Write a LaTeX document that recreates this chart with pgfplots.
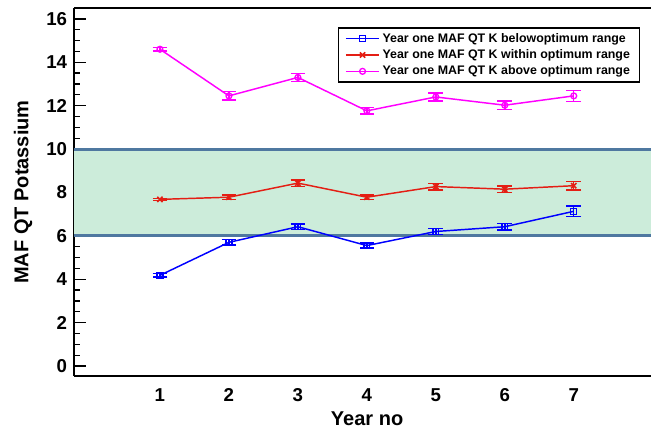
\documentclass[border=0pt]{standalone}
\usepackage{fontspec}
\setmainfont{Liberation Sans}
\usepackage{pgfplots}
\pgfplotsset{compat=1.18}
\definecolor{bandfill}{RGB}{204,236,218}
\definecolor{bandline}{RGB}{79,120,160}
\definecolor{cblue}{RGB}{0,0,255}
\definecolor{cred}{RGB}{228,30,20}
\definecolor{cmag}{RGB}{255,0,255}
\begin{document}
\begin{tikzpicture}
\begin{axis}[
  scale only axis,
  width=432.75pt, height=276pt,
  xmin=-0.246, xmax=8.12,
  ymin=-0.46, ymax=16.5,
  axis x line=box, axis y line=left,
  axis line style={-, line width=1.4pt},
  xtick={1,2,3,4,5,6,7},
  ytick={0,2,4,6,8,10,12,14,16},
  minor y tick num=3,
  tick align=inside,
  xtick style={draw=none},
  ytick pos=left,
  major tick length=9pt, minor tick length=4.5pt,
  ytick style={line width=1pt, black},
  minor y tick style={line width=1pt, black},
  /pgf/number format/assume math mode=true,
  ticklabel style={font=\fontsize{14}{16}\selectfont\bfseries},
  yticklabel style={inner sep=0pt, xshift=-5pt},
  xticklabel style={inner sep=0pt, yshift=-9pt},
  xlabel={Year no},
  ylabel={MAF QT Potassium},
  label style={font=\fontsize{15}{17}\selectfont\bfseries},
  xlabel style={at={(axis description cs:0.508,0)}, anchor=north, inner sep=0pt, yshift=-26.5pt},
  ylabel style={at={([xshift=-31pt]axis description cs:0,0.5)}, anchor=south, inner sep=0pt},
  legend cell align=left,
  legend style={at={(rel axis cs:0.981,0.948)}, anchor=north east, draw=black, line width=1.1pt,
    font=\fontsize{9.3}{11}\selectfont\bfseries, inner xsep=5pt, inner ysep=2pt,
    row sep=0pt,
    /tikz/every even column/.append style={column sep=2pt}},
  legend image code/.code={\draw[mark repeat=2, mark phase=2, #1, line width=1.1pt] plot coordinates {(0pt,0pt) (12.5pt,0pt) (25pt,0pt)};},
  error bars/error mark options={rotate=90, mark size=5.5pt, line width=1.1pt},
  clip=false,
]
\fill[bandfill] (axis cs:-0.246,6) rectangle (axis cs:8.12,10);
\draw[bandline, line width=2.2pt] (axis cs:-0.246,6) -- (axis cs:8.12,6);
\draw[bandline, line width=2.2pt] (axis cs:-0.246,10) -- (axis cs:8.12,10);

\addplot[cblue, line width=1.1pt, mark=square, mark size=2.2pt, mark options={line width=1pt},
  error bars/.cd, y dir=both, y explicit, error bar style={line width=1.1pt}]
  coordinates {
  (1,4.18) +- (0,0.08)
  (2,5.70) +- (0,0.12)
  (3,6.42) +- (0,0.12)
  (4,5.55) +- (0,0.12)
  (5,6.20) +- (0,0.15)
  (6,6.42) +- (0,0.15)
  (7,7.13) +- (0,0.25)
  };
\addlegendentry{Year one MAF QT K belowoptimum range}

\addplot[cred, line width=1.1pt, mark=x, mark size=2.8pt, mark options={line width=1.2pt},
  error bars/.cd, y dir=both, y explicit, error bar style={line width=1.1pt}]
  coordinates {
  (1,7.68) +- (0,0.05)
  (2,7.78) +- (0,0.10)
  (3,8.43) +- (0,0.15)
  (4,7.78) +- (0,0.10)
  (5,8.27) +- (0,0.15)
  (6,8.15) +- (0,0.15)
  (7,8.31) +- (0,0.20)
  };
\addlegendentry{Year one MAF QT K within optimum range}

\addplot[cmag, line width=1.1pt, mark=o, mark size=2.2pt, mark options={line width=1pt},
  error bars/.cd, y dir=both, y explicit, error bar style={line width=1.1pt}]
  coordinates {
  (1,14.60) +- (0,0.08)
  (2,12.45) +- (0,0.20)
  (3,13.30) +- (0,0.18)
  (4,11.76) +- (0,0.15)
  (5,12.40) +- (0,0.18)
  (6,12.02) +- (0,0.20)
  (7,12.45) +- (0,0.25)
  };
\addlegendentry{Year one MAF QT K above optimum range}

\coordinate (SW) at (rel axis cs:0,0);
\coordinate (NE) at (rel axis cs:1,1);
\end{axis}
\pgfresetboundingbox
\path[use as bounding box] ([xshift=-55.5pt,yshift=-40.5pt]SW) rectangle ([yshift=6pt]NE);
\end{tikzpicture}
\end{document}
